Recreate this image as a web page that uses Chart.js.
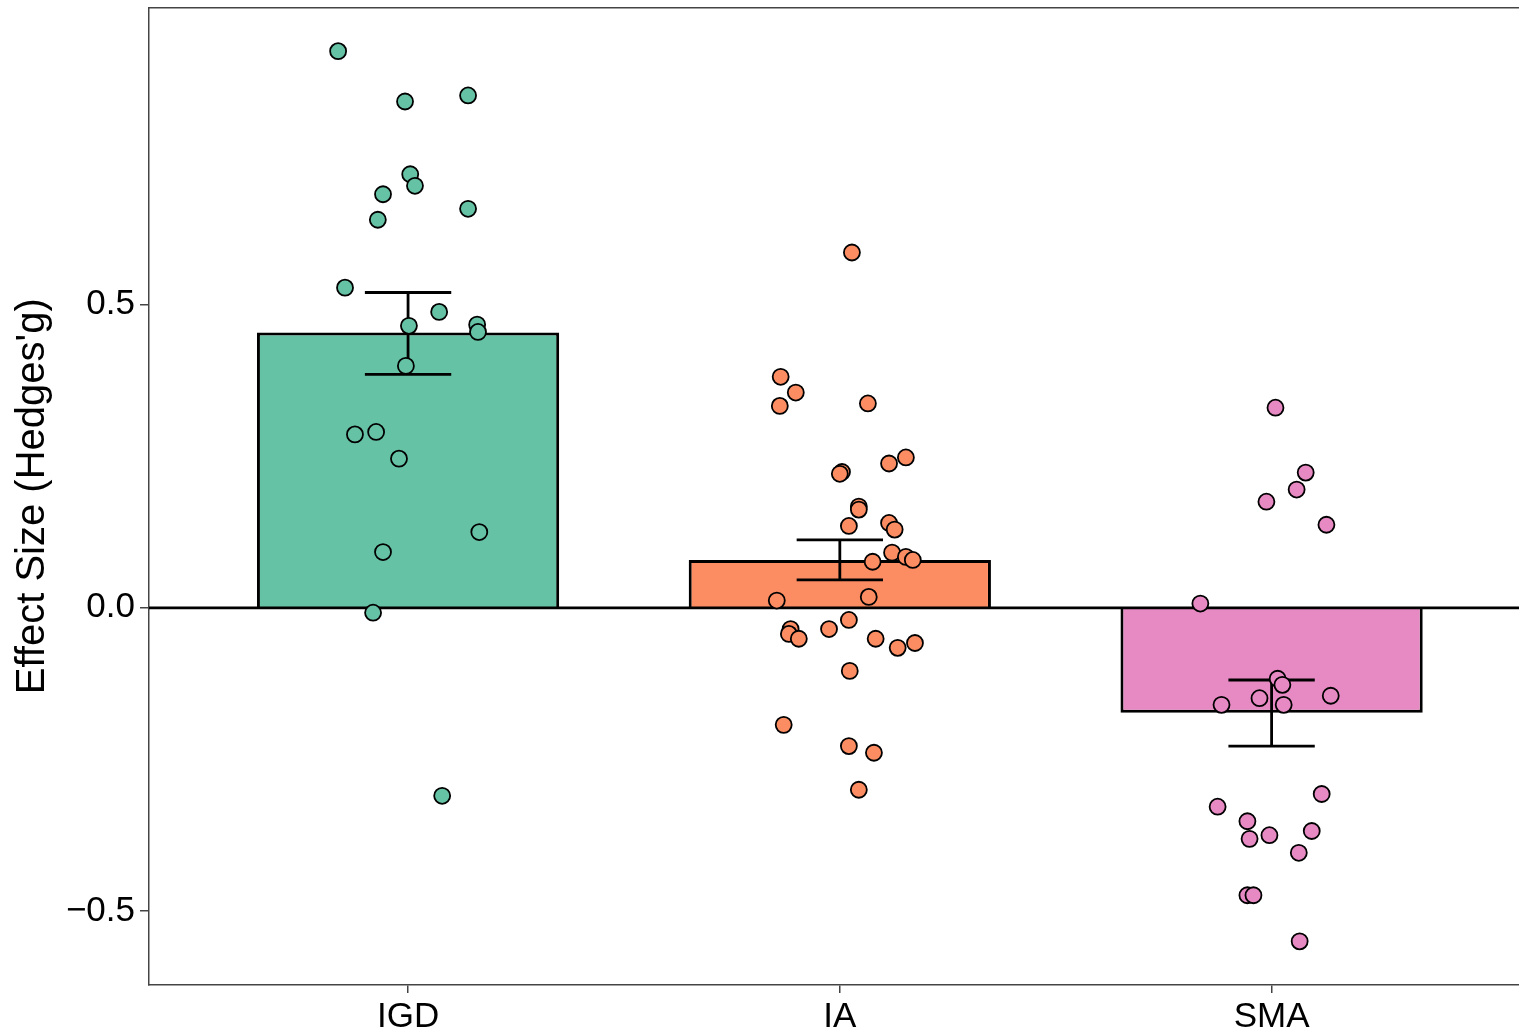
<!DOCTYPE html>
<html>
<head>
<meta charset="utf-8">
<script src="https://cdn.jsdelivr.net/npm/chart.js@4.4.1/dist/chart.umd.min.js"></script>
<style>
  html, body { margin: 0; padding: 0; background: #fff; overflow: hidden; }
  #wrap { width: 1519px; height: 1032px; position: relative; }
  #effectChart { display: block; }
</style>
</head>
<body>
<div id="wrap"><canvas id="effectChart"></canvas></div>
<script>
// groups and summary values
const groups = ["IGD", "IA", "SMA"];
const groupColors = ["#66C2A5", "#FC8D62", "#E78AC3"];
const meanEffect = [0.454, 0.079, -0.173];
const errLow = [0.385, 0.046, -0.228];
const errHigh = [0.520, 0.112, -0.119];
const yTicks = [-0.5, 0.0, 0.5];

// individual studies (jittered x position, Hedges' g)
const igdX = [0.838, 0.993, 1.139, 1.005, 1.016, 0.942, 0.930, 1.139, 0.854, 1.072, 1.002,
  1.160, 1.162, 0.995, 0.877, 0.926, 0.979, 1.165, 0.942, 0.919, 1.079];
const igdG = [0.918, 0.835, 0.845, 0.715, 0.696, 0.682, 0.640, 0.658, 0.528, 0.488, 0.465,
  0.467, 0.455, 0.399, 0.286, 0.290, 0.246, 0.125, 0.092, -0.008, -0.310];

const iaX = [2.028, 1.863, 1.898, 1.861, 2.065, 2.114, 2.153, 2.005, 2.000, 2.044, 2.044,
  2.021, 2.114, 2.127, 2.121, 2.076, 2.153, 2.169, 1.854, 2.067, 2.021, 1.886, 1.882,
  1.905, 1.975, 2.083, 2.134, 2.174, 2.023, 1.870, 2.021, 2.079, 2.044];
const iaG = [0.586, 0.381, 0.355, 0.333, 0.337, 0.238, 0.248, 0.224, 0.221, 0.167, 0.162,
  0.135, 0.140, 0.129, 0.091, 0.076, 0.084, 0.079, 0.012, 0.018, -0.020, -0.035, -0.043,
  -0.051, -0.035, -0.051, -0.066, -0.058, -0.104, -0.193, -0.228, -0.239, -0.300];

const smaX = [3.009, 3.079, 3.058, 2.988, 3.127, 2.835, 3.014, 3.025, 2.972, 2.884, 3.028,
  3.137, 3.116, 2.875, 2.944, 2.949, 2.995, 3.093, 3.063, 2.944, 2.958, 3.065];
const smaG = [0.330, 0.223, 0.195, 0.175, 0.137, 0.007, -0.117, -0.127, -0.149, -0.160, -0.160,
  -0.145, -0.307, -0.328, -0.352, -0.381, -0.375, -0.368, -0.404, -0.474, -0.474, -0.550];

const X_MIN = 0.4, X_MAX = 3.573;
const Y_MIN = -0.622, Y_MAX = 0.99;
const CAP = 0.1;
const FONT = "'Liberation Sans', Arial, Helvetica, sans-serif";

const studyX = [igdX, iaX, smaX];
const studyG = [igdG, iaG, smaG];

// no automatic label padding, the panel edges are fixed
function noPad(s) {
  s.paddingTop = 0; s.paddingBottom = 0; s.paddingLeft = 0; s.paddingRight = 0;
}

const datasets = [];

datasets.push({
  type: 'bar',
  data: groups.map((g, i) => ({ x: i + 1, y: meanEffect[i] })),
  backgroundColor: groupColors,
  borderColor: '#000',
  borderWidth: 3,
  borderSkipped: 'start',
  barPercentage: 0.7,
  categoryPercentage: 1.0,
  order: 4
});

// zero line
datasets.push({
  type: 'line',
  data: [{ x: X_MIN, y: 0 }, { x: X_MAX, y: 0 }],
  borderColor: '#000',
  borderWidth: 2.6,
  pointRadius: 0,
  order: 3
});

// error bars
groups.forEach((g, i) => {
  const c = i + 1;
  datasets.push({
    type: 'line',
    data: [
      { x: c - CAP, y: errHigh[i] }, { x: c + CAP, y: errHigh[i] }, { x: c, y: errHigh[i] },
      { x: c, y: errLow[i] }, { x: c - CAP, y: errLow[i] }, { x: c + CAP, y: errLow[i] }
    ],
    borderColor: '#000',
    borderWidth: 2.8,
    pointRadius: 0,
    tension: 0,
    order: 2
  });
});

// study points
groups.forEach((g, i) => {
  datasets.push({
    type: 'scatter',
    data: studyX[i].map((x, k) => ({ x: x, y: studyG[i][k] })),
    backgroundColor: groupColors[i],
    borderColor: '#000',
    borderWidth: 1.8,
    pointRadius: 8,
    order: 1
  });
});

const ctx = document.getElementById('effectChart').getContext('2d');
new Chart(ctx, {
  type: 'bar',
  data: { datasets: datasets },
  options: {
    responsive: true,
    maintainAspectRatio: false,
    animation: false,
    layout: { autoPadding: false, padding: { top: 7.5, right: 0, bottom: 0, left: 0 } },
    plugins: { legend: { display: false }, tooltip: { enabled: false } },
    scales: {
      x: {
        type: 'linear',
        min: X_MIN,
        max: X_MAX,
        offset: false,
        afterBuildTicks: s => { s.ticks = groups.map((g, i) => ({ value: i + 1 })); },
        afterFit: s => { s.height = 47; noPad(s); },
        grid: { offset: false, drawOnChartArea: false, drawTicks: true, tickLength: 8, tickColor: '#444', lineWidth: 1.5 },
        border: { display: true, color: '#444', width: 1.5 },
        ticks: {
          autoSkip: false,
          maxRotation: 0,
          padding: 3,
          color: '#000',
          font: { family: FONT, size: 35 },
          callback: v => groups[Math.round(v) - 1]
        }
      },
      xTop: {
        type: 'linear',
        position: 'top',
        min: X_MIN,
        max: X_MAX,
        offset: false,
        afterFit: s => { s.height = 0; noPad(s); },
        grid: { drawOnChartArea: false, drawTicks: false },
        border: { display: true, color: '#444', width: 1.5 },
        ticks: { display: false }
      },
      y: {
        min: Y_MIN,
        max: Y_MAX,
        afterBuildTicks: s => { s.ticks = yTicks.map(v => ({ value: v })); },
        afterFit: s => { s.width = 149; noPad(s); },
        grid: { drawOnChartArea: false, drawTicks: true, tickLength: 9, tickColor: '#444', lineWidth: 1.5 },
        border: { display: true, color: '#444', width: 1.5 },
        ticks: {
          padding: 5,
          color: '#000',
          font: { family: FONT, size: 35 },
          callback: v => (v < 0 ? '\u2212' : '') + Math.abs(v).toFixed(1)
        },
        title: {
          display: true,
          text: "Effect Size (Hedges'g)",
          color: '#000',
          font: { family: FONT, size: 40 },
          padding: { top: 9, bottom: 8 }
        }
      }
    }
  }
});
</script>
</body>
</html>
